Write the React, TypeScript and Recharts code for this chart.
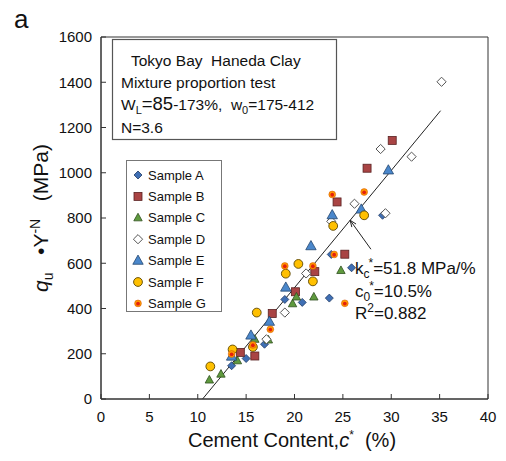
import React from 'react';
import { ScatterChart, Scatter, XAxis, YAxis, ReferenceLine, ReferenceArea, Legend } from 'recharts';

const FONT = '"Liberation Sans", Arial, Helvetica, sans-serif';

// Cement content c* (%) and normalised strength qu·Y^-N (MPa)
const sampleA: [number, number][] = [[13.5, 147], [15.0, 179], [16.9, 242], [19.0, 440], [20.8, 427], [23.6, 446], [25.9, 580], [23.8, 639], [29.1, 812]];
const sampleB: [number, number][] = [[14.4, 206], [15.9, 190], [17.7, 378], [20.1, 474], [22.1, 563], [25.2, 640], [24.4, 871], [27.5, 1020], [30.1, 1143]];
const sampleC: [number, number][] = [[11.2, 84], [12.4, 110], [14.1, 169], [15.9, 264], [17.3, 261], [19.8, 421], [20.2, 451], [22.0, 451], [24.8, 568]];
const sampleD: [number, number][] = [[17.1, 264], [19.0, 382], [21.2, 555], [23.8, 785], [26.2, 863], [29.4, 821], [28.9, 1105], [32.1, 1071], [35.2, 1402]];
const sampleE: [number, number][] = [[13.5, 188], [15.5, 281], [17.4, 342], [19.1, 493], [21.7, 676], [23.9, 813], [26.9, 838], [29.7, 1011]];
const sampleF: [number, number][] = [[11.3, 144], [13.6, 219], [15.7, 230], [16.1, 382], [19.1, 554], [20.4, 597], [21.9, 520], [24.0, 765], [27.2, 812]];
const sampleG: [number, number][] = [[13.5, 199], [15.7, 239], [17.5, 308], [19.0, 588], [21.9, 588], [24.1, 639], [25.2, 423], [23.9, 904], [27.2, 915]];

const xTicks = [0, 5, 10, 15, 20, 25, 30, 35, 40];
const yTicks = [0, 200, 400, 600, 800, 1000, 1200, 1400, 1600];

// Regression: qu·Y^-N = kc* (c* - c0*)
const kc = 51.8;
const c0 = 10.5;
const fitEnd = 35.1;
const arrowTail = { x: 27.9, y: 662 };
const arrowHeadX = 25.75;

type Kind = 'diamond' | 'square' | 'triangle' | 'openDiamond' | 'bigTriangle' | 'circle' | 'dot';

const series: { name: string; data: [number, number][]; kind: Kind; fill: string; stroke: string }[] = [
  { name: 'Sample A', data: sampleA, kind: 'diamond', fill: '#3f6fb4', stroke: '#1f3a63' },
  { name: 'Sample B', data: sampleB, kind: 'square', fill: '#a94444', stroke: '#5a2222' },
  { name: 'Sample C', data: sampleC, kind: 'triangle', fill: '#5f9a3e', stroke: '#2f4f1e' },
  { name: 'Sample D', data: sampleD, kind: 'openDiamond', fill: '#ffffff', stroke: '#555555' },
  { name: 'Sample E', data: sampleE, kind: 'bigTriangle', fill: '#4a87cb', stroke: '#24466f' },
  { name: 'Sample F', data: sampleF, kind: 'circle', fill: '#ffc000', stroke: '#5c4600' },
  { name: 'Sample G', data: sampleG, kind: 'dot', fill: '#ff9d00', stroke: '#d24a00' },
];

function Marker({ kind, cx, cy, fill, stroke }: { kind: Kind; cx: number; cy: number; fill: string; stroke: string }) {
  switch (kind) {
    case 'diamond': {
      const r = 4;
      return <path d={`M${cx},${cy - r}L${cx + r},${cy}L${cx},${cy + r}L${cx - r},${cy}Z`} fill={fill} stroke={stroke} strokeWidth={0.8} />;
    }
    case 'openDiamond': {
      const r = 4.6;
      return <path d={`M${cx},${cy - r}L${cx + r},${cy}L${cx},${cy + r}L${cx - r},${cy}Z`} fill={fill} stroke={stroke} strokeWidth={1} />;
    }
    case 'square': {
      const s = 8;
      return <rect x={cx - s / 2} y={cy - s / 2} width={s} height={s} fill={fill} stroke={stroke} strokeWidth={0.8} />;
    }
    case 'triangle': {
      const w = 8.4, h = 7.6;
      return <path d={`M${cx},${cy - h * 0.6}L${cx + w / 2},${cy + h * 0.4}L${cx - w / 2},${cy + h * 0.4}Z`} fill={fill} stroke={stroke} strokeWidth={0.8} />;
    }
    case 'bigTriangle': {
      const w = 10.4, h = 9.2;
      return <path d={`M${cx},${cy - h * 0.6}L${cx + w / 2},${cy + h * 0.4}L${cx - w / 2},${cy + h * 0.4}Z`} fill={fill} stroke={stroke} strokeWidth={0.8} />;
    }
    case 'circle':
      return <circle cx={cx} cy={cy} r={4.4} fill={fill} stroke={stroke} strokeWidth={0.9} />;
    case 'dot':
    default:
      return (
        <g>
          <circle cx={cx} cy={cy} r={3.4} fill={fill} stroke={stroke} strokeWidth={0.5} />
          <circle cx={cx} cy={cy + 0.3} r={1.9} fill="#e5200c" />
        </g>
      );
  }
}

const YTick = (p: any) => {
  const ax = p.x + 9;
  return (
    <g>
      <line x1={ax} x2={ax + 5} y1={p.y} y2={p.y} stroke="#333" strokeWidth={1} />
      <text x={p.x} y={p.y} dy="0.35em" textAnchor="end" fontFamily={FONT} fontSize={15} fill="#111">{p.payload.value}</text>
    </g>
  );
};

const XTick = (p: any) => {
  const ay = p.y - 12;
  return (
    <g>
      <line x1={p.x} x2={p.x} y1={ay} y2={ay - 5} stroke="#333" strokeWidth={1} />
      <text x={p.x} y={p.y} dy="0.72em" textAnchor="middle" fontFamily={FONT} fontSize={15} fill="#111">{p.payload.value}</text>
    </g>
  );
};

const ArrowShape = (p: any) => {
  const { x1, y1, x2, y2 } = p;
  const ang = Math.atan2(y1 - y2, x1 - x2);
  const L = 7, a = 0.38;
  const l1 = { x: x2 + L * Math.cos(ang + a), y: y2 + L * Math.sin(ang + a) };
  const l2 = { x: x2 + L * Math.cos(ang - a), y: y2 + L * Math.sin(ang - a) };
  return (
    <g>
      <line x1={x1} y1={y1} x2={x2} y2={y2} stroke="#222" strokeWidth={1} />
      <path d={`M${l1.x},${l1.y}L${x2},${y2}L${l2.x},${l2.y}`} fill="none" stroke="#222" strokeWidth={1} />
    </g>
  );
};

const LegendBox = () => (
  <svg width={96} height={152} style={{ display: 'block' }}>
    <rect x={0.5} y={0.5} width={95} height={151} fill="#fff" stroke="#777" strokeWidth={1} />
    {series.map((s, i) => {
      const cy = 15 + i * 21.4;
      return (
        <g key={s.name}>
          <Marker kind={s.kind} cx={12} cy={cy} fill={s.fill} stroke={s.stroke} />
          <text x={22} y={cy} dy="0.36em" fontFamily={FONT} fontSize={13} fill="#111">{s.name}</text>
        </g>
      );
    })}
  </svg>
);

export default function App() {
  const fitSegment = [{ x: c0, y: 0 }, { x: fitEnd, y: kc * (fitEnd - c0) }];
  const arrowSegment = [arrowTail, { x: arrowHeadX, y: kc * (arrowHeadX - c0) }];
  return (
    <div style={{ position: 'absolute', left: 0, top: 0, width: 506, height: 461, background: '#fff' }}>
      <ScatterChart width={506} height={461} margin={{ top: 37, right: 18, bottom: 22, left: 41 }}>
        <XAxis
          type="number"
          dataKey="x"
          domain={[0, 40]}
          ticks={xTicks}
          interval={0}
          height={40}
          tickSize={0}
          tickMargin={12}
          tick={<XTick />}
          tickLine={false}
          axisLine={{ stroke: '#333' }}
        />
        <YAxis
          type="number"
          dataKey="y"
          domain={[0, 1600]}
          ticks={yTicks}
          interval={0}
          width={60}
          tickSize={0}
          tickMargin={9}
          tick={<YTick />}
          tickLine={false}
          axisLine={{ stroke: '#333' }}
        />
        <ReferenceArea x1={0} x2={40} y1={0} y2={1600} fill="none" stroke="#333" strokeWidth={1} />
        <ReferenceLine segment={fitSegment} stroke="#222" strokeWidth={1} />
        <ReferenceLine segment={arrowSegment} shape={ArrowShape} />
        {series.map((s) => (
          <Scatter
            key={s.name}
            name={s.name}
            data={s.data.map(([x, y]) => ({ x, y }))}
            fill={s.fill}
            isAnimationActive={false}
            shape={(p: any) => <Marker kind={s.kind} cx={p.cx} cy={p.cy} fill={s.fill} stroke={s.stroke} />}
          />
        ))}
        <Legend
          layout="vertical"
          align="center"
          verticalAlign="middle"
          content={() => <LegendBox />}
          wrapperStyle={{ position: 'absolute', left: 126, top: 160, width: 96, height: 152 }}
        />
      </ScatterChart>
      <svg width={506} height={461} style={{ position: 'absolute', left: 0, top: 0, pointerEvents: 'none' }} fontFamily={FONT} fill="#111">
        <text x={14} y={28} fontSize={26}>a</text>
        <rect x={112.5} y={39.5} width={224} height={100} fill="#fff" stroke="#555" strokeWidth={1.2} />
        <text x={131} y={66} fontSize={15.5} xmlSpace="preserve">Tokyo Bay  Haneda Clay</text>
        <text x={121} y={88} fontSize={15.5}>Mixture proportion test</text>
        <text x={121} y={110} fontSize={15.5} xmlSpace="preserve">
          W<tspan fontSize={11} dy={4}>L</tspan><tspan fontSize={18.5} dy={-4}>=85</tspan>-173%,  w<tspan fontSize={11} dy={4}>0</tspan><tspan dy={-4}>=175-412</tspan>
        </text>
        <text x={121} y={133} fontSize={15.5}>N=3.6</text>

        <text x={355} y={274} fontSize={17}>
          k<tspan fontSize={12} dy={4}>c</tspan><tspan fontSize={12} dx={-1} dy={-11}>*</tspan><tspan dy={7}>=51.8 MPa/%</tspan>
        </text>
        <text x={355} y={297} fontSize={17}>
          c<tspan fontSize={12} dy={4}>0</tspan><tspan fontSize={12} dx={-1} dy={-11}>*</tspan><tspan dy={7}>=10.5%</tspan>
        </text>
        <text x={355} y={319} fontSize={17}>
          R<tspan fontSize={12} dy={-7}>2</tspan><tspan dy={7}>=0.882</tspan>
        </text>

        <text x={292} y={447} fontSize={20} textAnchor="middle" xmlSpace="preserve">
          Cement Content,<tspan fontStyle="italic">c</tspan><tspan fontSize={12} dy={-8}>*</tspan><tspan dy={8}>  (%)</tspan>
        </text>
        <text transform="translate(48,218) rotate(-90)" fontSize={21} textAnchor="middle" xmlSpace="preserve">
          <tspan fontStyle="italic">q</tspan><tspan fontSize={14} dy={5}>u</tspan><tspan dy={-5}>   •Y</tspan><tspan fontSize={14} dy={-8}>-N</tspan><tspan dy={8}>   (MPa)</tspan>
        </text>
      </svg>
    </div>
  );
}
